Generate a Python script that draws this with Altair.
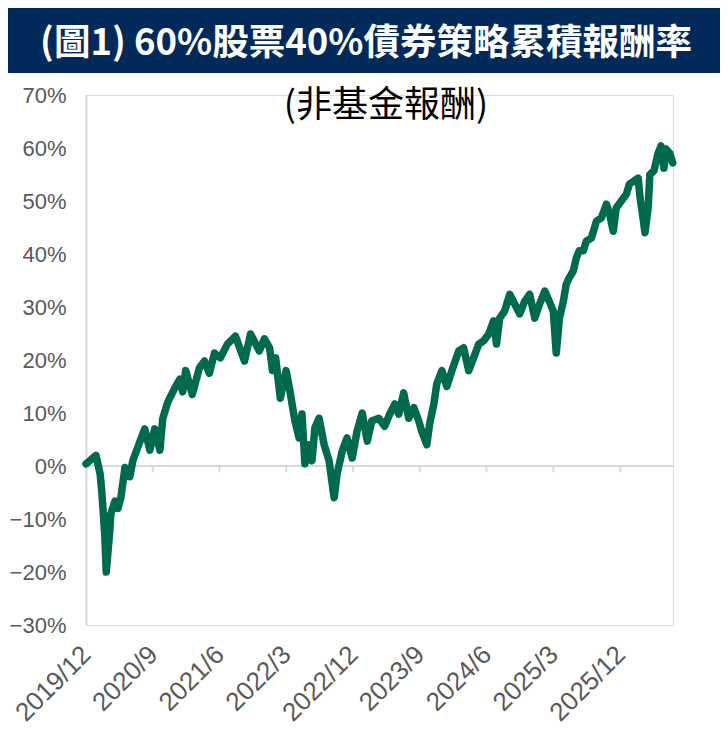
import altair as alt
import pandas as pd

title_text = "(圖1) 60%股票40%債券策略累積報酬率"
subtitle_text = "(非基金報酬)"

dates = [
    "2019-12-31", "2020-01-16", "2020-02-10", "2020-02-27", "2020-03-05", "2020-03-17", "2020-03-23",
    "2020-04-07", "2020-04-11", "2020-04-28", "2020-05-10", "2020-05-22", "2020-06-08", "2020-06-28",
    "2020-07-10", "2020-07-30", "2020-08-28", "2020-09-18", "2020-10-08", "2020-10-29", "2020-11-10",
    "2020-11-30", "2020-12-29", "2021-01-19", "2021-01-31", "2021-02-12", "2021-03-11", "2021-04-09",
    "2021-04-30", "2021-05-20", "2021-06-10", "2021-07-04", "2021-08-02", "2021-09-04", "2021-10-11",
    "2021-11-05", "2021-12-11", "2022-01-01", "2022-01-22", "2022-02-03", "2022-02-16", "2022-03-07",
    "2022-03-31", "2022-04-16", "2022-05-06", "2022-05-23", "2022-06-04", "2022-06-16", "2022-07-03",
    "2022-07-15", "2022-07-27", "2022-08-13", "2022-09-03", "2022-09-23", "2022-10-14", "2022-10-26",
    "2022-11-16", "2022-12-06", "2022-12-27", "2023-01-16", "2023-02-06", "2023-02-27", "2023-03-17",
    "2023-04-15", "2023-05-09", "2023-05-30", "2023-06-20", "2023-07-06", "2023-07-26", "2023-08-16",
    "2023-09-06", "2023-09-26", "2023-10-08", "2023-10-29", "2023-11-10", "2023-11-27", "2023-12-09",
    "2023-12-30", "2024-01-19", "2024-02-09", "2024-03-08", "2024-03-28", "2024-04-18", "2024-05-08",
    "2024-05-29", "2024-06-18", "2024-07-09", "2024-07-29", "2024-08-10", "2024-08-23", "2024-09-12",
    "2024-10-03", "2024-10-23", "2024-11-13", "2024-12-03", "2024-12-24", "2025-01-14", "2025-02-03",
    "2025-02-24", "2025-03-15", "2025-03-31", "2025-04-12", "2025-04-25", "2025-05-11", "2025-05-23",
    "2025-06-04", "2025-06-21", "2025-07-03", "2025-07-15", "2025-08-01", "2025-08-13", "2025-09-03",
    "2025-09-24", "2025-10-14", "2025-11-04", "2025-11-16", "2025-12-02", "2025-12-14", "2026-01-04",
    "2026-01-25", "2026-02-06", "2026-02-26", "2026-03-14", "2026-03-22", "2026-04-03", "2026-04-11",
    "2026-04-24", "2026-05-01", "2026-05-18", "2026-06-03", "2026-06-16", "2026-06-28", "2026-07-06",
    "2026-07-22", "2026-08-03",
]
returns = [
    0.4, 1.0, 2.0, -1.5, -5.0, -13.0, -20.0,
    -12.0, -9.0, -6.6, -8.0, -6.0, -0.3, -2.0,
    1.0, 3.5, 7.0, 3.0, 7.0, 3.0, 9.0,
    12.0, 14.7, 16.4, 14.0, 18.0, 13.5, 18.5,
    19.8, 17.5, 21.3, 20.4, 23.0, 24.5, 19.8,
    24.9, 21.7, 24.0, 22.3, 18.0, 20.4, 12.8,
    18.0, 14.0, 8.5, 5.3, 9.8, 0.4, 4.0,
    1.0, 7.2, 9.0, 4.0, 1.0, -6.0, -1.5,
    2.8, 5.3, 1.5, 6.6, 10.0, 4.7, 8.5,
    9.0, 7.5, 9.8, 11.7, 9.8, 13.8, 9.0,
    11.0, 8.5, 6.6, 4.0, 8.0, 11.7, 15.5,
    18.0, 15.0, 18.0, 21.7, 22.3, 18.0, 20.4,
    23.0, 23.6, 24.9, 27.4, 23.0, 27.9, 29.2,
    32.4, 30.6, 28.7, 31.0, 32.4, 27.9, 30.6,
    33.0, 31.0, 29.2, 21.3, 27.9, 31.0, 34.3,
    35.5, 36.8, 39.2, 40.6, 40.6, 42.4, 43.0,
    46.2, 46.8, 49.4, 47.7, 44.3, 48.7, 50.0,
    51.3, 53.2, 53.8, 54.3, 50.6, 46.8, 44.0,
    48.7, 55.0, 55.7, 58.9, 60.4, 56.2, 59.8,
    59.0, 57.2,
]

tick_dates = ["2019-12-31", "2020-09-30", "2021-06-30", "2022-03-31", "2022-12-31",
              "2023-09-30", "2024-06-30", "2025-03-31", "2025-12-31"]
y_ticks = [-30, -20, -10, 0, 10, 20, 30, 40, 50, 60, 70]
x_domain = ["2019-12-31", "2026-08-04"]

df = pd.DataFrame({"date": dates, "ret": returns})
ticks_df = pd.DataFrame({"d": tick_dates})

W, H = 587, 530
GREEN = "#006a4e"
GRAY = "#d9d9d9"
LABEL = "#595959"

tick_ms = [int(pd.Timestamp(d, tz="UTC").value // 10**6) for d in tick_dates]
dom_ms = [int(pd.Timestamp(d, tz="UTC").value // 10**6) for d in x_domain]

xscale = alt.Scale(type="utc", domain=dom_ms, nice=False)
yscale = alt.Scale(domain=[-30, 70], nice=False)

line = alt.Chart(df).mark_line(
    color=GREEN, strokeWidth=7.5, strokeJoin="round", strokeCap="round"
).encode(
    x=alt.X("date:T", scale=xscale, title=None,
            axis=alt.Axis(values=tick_ms, labelExpr="utcFormat(datum.value, '%Y/%-m')",
                          labelAngle=-45, labelFontSize=26, labelFont="Liberation Sans",
                          labelColor=LABEL, labelPadding=16, labelOffset=-9,
                          domain=False, ticks=False,
                          grid=False, labelOverlap=False, labelFlush=False)),
    y=alt.Y("ret:Q", scale=yscale, title=None,
            axis=alt.Axis(values=y_ticks, labelExpr="format(datum.value, 'd') + '%'",
                          labelFontSize=22, labelFont="Liberation Sans", labelColor=LABEL,
                          labelPadding=20, ticks=False, grid=False, domainColor=GRAY,
                          domainWidth=2, labelFlush=False)),
)

zero = alt.Chart(df).mark_rule(color=GRAY, strokeWidth=2).encode(y=alt.datum(0))

tick_marks = alt.Chart(ticks_df).mark_rule(color=GRAY, strokeWidth=2).encode(
    x=alt.X("d:T", scale=xscale),
    y=alt.datum(0),
    y2=alt.datum(-1.2),
)

banner = alt.Chart(pd.DataFrame({"a": [0]})).mark_rect(color="#012a5b").encode(
    x=alt.value(-78), x2=alt.value(W + 60), y=alt.value(-88), y2=alt.value(-22)
)

title = alt.Chart(pd.DataFrame({"t": [title_text]})).mark_text(
    font="Noto Sans CJK TC", fontWeight="bold", fontSize=36.5, color="white",
    align="center", baseline="middle"
).encode(text="t:N", x=alt.value(280), y=alt.value(-51))

subtitle = alt.Chart(pd.DataFrame({"t": [subtitle_text]})).mark_text(
    font="Noto Sans CJK TC", fontSize=36, color="black",
    align="center", baseline="middle"
).encode(text="t:N", x=alt.value(300), y=alt.value(11))

chart = alt.layer(zero, tick_marks, line, banner, title, subtitle).properties(
    width=W, height=H,
    autosize=alt.AutoSizeParams(type="none"),
    padding={"left": 78, "top": 87, "right": 47, "bottom": 125},
).configure_view(stroke=None).configure(background="white")

chart.save("out.html", embed_options={"renderer": "svg", "actions": False})
